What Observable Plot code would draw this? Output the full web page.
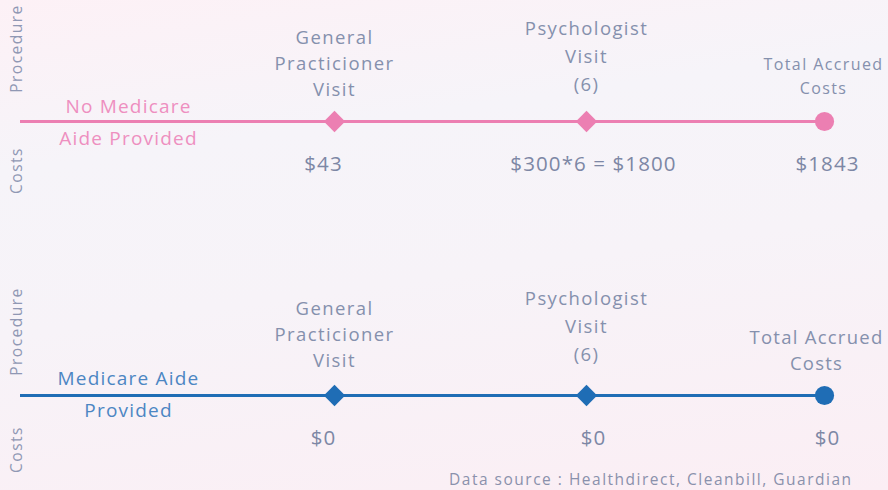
<!DOCTYPE html>
<html><head><meta charset="utf-8">
<script src="https://cdn.jsdelivr.net/npm/d3@7"></script>
<script src="https://cdn.jsdelivr.net/npm/@observablehq/plot@0.6"></script>
<style>
html,body{margin:0;padding:0;width:888px;height:490px;overflow:hidden;
background: linear-gradient(172deg, #fdf1f6 0%, #f6f4f9 28%, #f7f3f8 55%, #fbeef4 100%);}
#chart svg{display:block;}
.sp14 text{letter-spacing:1.4px;}
.sp13 text{letter-spacing:1.25px;}
.sp12 text{letter-spacing:1.2px;}
.sp10 text{letter-spacing:1.1px;}
.sp16 text{letter-spacing:1.5px;}
</style></head><body><div id="chart"></div>
<script>
// ---- data ----
const steps = ["General Practicioner Visit", "Psychologist Visit (6)", "Total Accrued Costs"];
const stepLabels = ["General\nPracticioner\nVisit", "Psychologist\nVisit\n(6)", "Total Accrued\nCosts"];
const stepKinds = ["visit", "visit", "total"];
const scenarios = ["No Medicare Aide Provided", "Medicare Aide Provided"];
const scenarioLabels = ["No Medicare\nAide Provided", "Medicare Aide\nProvided"];
const costValues = [[43, 1800, 1843], [0, 0, 0]];
const costLabels = [["$43", "$300*6 = $1800", "$1843"], ["$0", "$0", "$0"]];
const axisLabels = ["Procedure", "Costs"];
const source = "Data source : Healthdirect, Cleanbill, Guardian";

// ---- table ----
const rows = [];
scenarios.forEach((s, i) => steps.forEach((st, j) => rows.push({
  scenario: s, si: i, step: st, sj: j, stepLabel: stepLabels[j], kind: stepKinds[j],
  value: costValues[i][j], costLabel: costLabels[i][j]
})));

// ---- styles ----
const lineColors = ["#ec7fb2", "#1f6db5"];
const nameColors = ["#ee8fc0", "#4c86c3"];
const labelColor = "#8590ad";
const costColor = "#7d87a5";
const labelDy = [[-26, -31, -28], [-29, -35, -26]];
const labelDx = [[0, 0, -1], [0, 0, -8]];
const labelSize = [[18.5, 18.5, 16], [18.5, 18.5, 18.5]];
const labelLH = [[1.4, 1.5, 1.5], [1.4, 1.5, 1.4]];
const labelCls = [["sp14", "sp14", "sp14"], ["sp14", "sp14", "sp13"]];
const costDx = [-11, 7, 3];
const axisDy = [[-73, 49], [-64, 54]];
const nameDy = [-3, -5];

const marks = [
  Plot.ruleY(scenarios, {y: d => d, stroke: d => d, strokeWidth: 3}),
  Plot.dot(rows, {x: "step", y: "scenario", fill: "scenario", symbol: "kind", r: 9.6})
];
scenarios.forEach((s, i) => {
  steps.forEach((st, j) => {
    const sub = rows.filter(d => d.si === i && d.sj === j);
    marks.push(Plot.text(sub, {x: "step", y: "scenario", text: "stepLabel",
      lineAnchor: "bottom", dy: labelDy[i][j], dx: labelDx[i][j], fontSize: labelSize[i][j],
      lineHeight: labelLH[i][j], fill: labelColor, className: labelCls[i][j]}));
    marks.push(Plot.text(sub, {x: "step", y: "scenario", text: "costLabel",
      dy: 43, dx: costDx[j], fontSize: 20.5, fill: costColor, className: "sp10"}));
  });
  marks.push(Plot.text([s], {y: d => d, text: [scenarioLabels[i]], frameAnchor: "left",
    textAnchor: "middle", dx: 108, dy: nameDy[i], fontSize: 19, lineHeight: 1.72,
    fill: nameColors[i], className: "sp12"}));
  axisLabels.forEach((a, k) => {
    marks.push(Plot.text([s], {y: d => d, text: [a], frameAnchor: "left", rotate: -90,
      textAnchor: "middle", dx: -3, dy: axisDy[i][k], fontSize: 15.5, fill: "#9098b4",
      className: "sp16"}));
  });
});
marks.push(Plot.text([source], {text: d => d, frameAnchor: "bottom-right", dx: 26, dy: -6,
  fontSize: 15.5, fill: "#8a91ac", className: "sp16"}));

const chart = Plot.plot({
  width: 888, height: 490,
  marginTop: 0, marginBottom: 0, marginLeft: 20, marginRight: 62,
  style: {background: "transparent", fontFamily: "'Open Sans', sans-serif"},
  x: {type: "ordinal", domain: steps, range: [334, 586, 824], axis: null},
  y: {type: "point", domain: scenarios, range: [121, 395], padding: 0, axis: null},
  color: {domain: scenarios, range: lineColors},
  symbol: {domain: ["visit", "total"], range: ["diamond2", "circle"]},
  marks
});
document.getElementById("chart").append(chart);
</script>
</body></html>
